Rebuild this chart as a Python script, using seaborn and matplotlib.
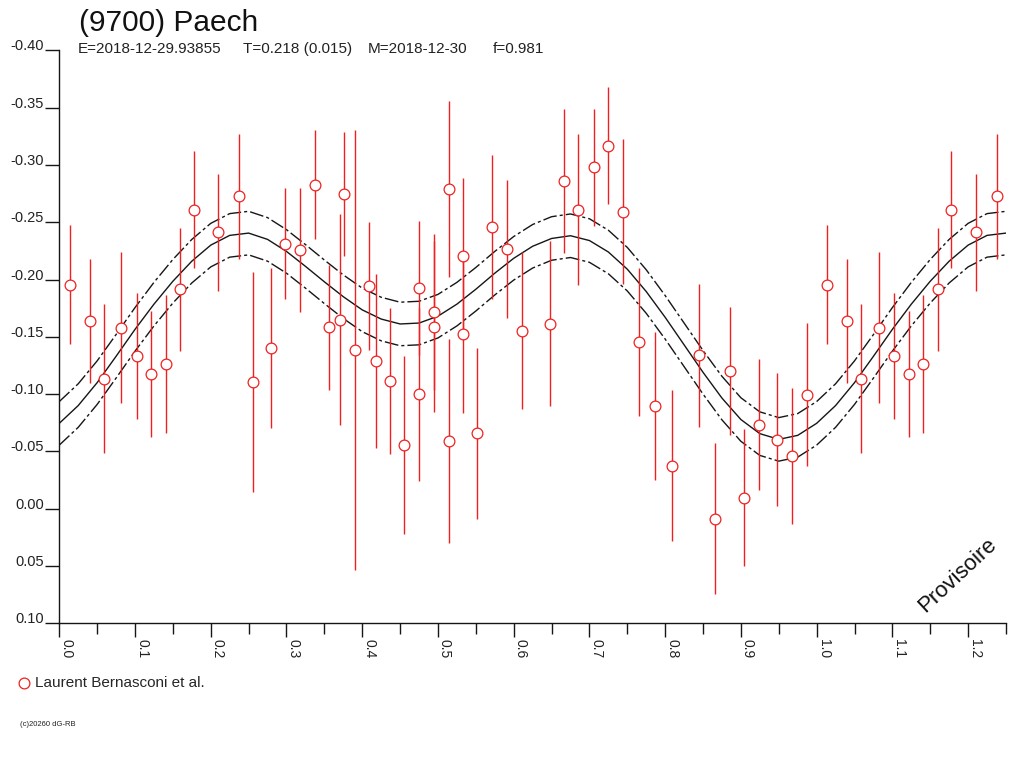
import numpy as np
import pandas as pd
import matplotlib
matplotlib.use("Agg")
import matplotlib.pyplot as plt
import seaborn as sns

# lightcurve points (phase, relative mag, 1-sigma error)
phase = [0.0141, 0.0406, 0.0590, 0.0820, 0.1020, 0.1216, 0.1410, 0.1600, 0.1780, 0.2100,
         0.2378, 0.2563, 0.2797, 0.2986, 0.3180, 0.3374, 0.3567, 0.3700, 0.3760, 0.3910,
         0.4095, 0.4188, 0.4373, 0.4558, 0.4756, 0.4748, 0.4950, 0.4950, 0.5144, 0.5148,
         0.5337, 0.5333, 0.5522, 0.5716, 0.5910, 0.6103, 0.6473, 0.6667, 0.6843, 0.7054,
         0.7248, 0.7437, 0.7660, 0.7865, 0.8094, 0.8442, 0.8662, 0.8851, 0.9045, 0.9243,
         0.9472, 0.9670, 0.9868]
mag = [-0.1955, -0.1640, -0.1134, -0.1580, -0.1330, -0.1178, -0.1263, -0.1915, -0.2610, -0.2412,
       -0.2726, -0.1108, -0.1405, -0.2312, -0.2260, -0.2827, -0.1585, -0.1649, -0.2746, -0.1385,
       -0.1946, -0.1289, -0.1114, -0.0556, -0.1926, -0.0998, -0.1716, -0.1588, -0.2790, -0.0593,
       -0.2205, -0.1527, -0.0660, -0.2458, -0.2266, -0.1553, -0.1614, -0.2857, -0.2610, -0.2979,
       -0.3168, -0.2592, -0.1457, -0.0896, -0.0375, -0.1338, 0.0087, -0.1202, -0.0096, -0.0733,
       -0.0602, -0.0457, -0.0995]
mag_err = [0.0520, 0.0540, 0.0650, 0.0660, 0.0550, 0.0550, 0.0600, 0.0535, 0.0510, 0.0510,
           0.0545, 0.0960, 0.0697, 0.0485, 0.0540, 0.0476, 0.0545, 0.0920, 0.0545, 0.1920,
           0.0560, 0.0760, 0.0635, 0.0780, 0.0585, 0.0753, 0.0680, 0.0745, 0.0770, 0.0889,
           0.0680, 0.0690, 0.0746, 0.0627, 0.0606, 0.0685, 0.0720, 0.0630, 0.0657, 0.0513,
           0.0513, 0.0635, 0.0644, 0.0648, 0.0657, 0.0627, 0.0656, 0.0560, 0.0600, 0.0574,
           0.0579, 0.0592, 0.0622]

# fitted curve read at regular phases over one cycle
fit_phase = [0.000, 0.025, 0.050, 0.075, 0.100, 0.125, 0.150, 0.175, 0.200, 0.225,
             0.250, 0.275, 0.300, 0.325, 0.350, 0.375, 0.400, 0.425, 0.450, 0.475,
             0.500, 0.525, 0.550, 0.575, 0.600, 0.625, 0.650, 0.675, 0.700, 0.725,
             0.750, 0.775, 0.800, 0.825, 0.850, 0.875, 0.900, 0.925, 0.950, 0.975, 1.000]
fit_mag = [-0.0745, -0.0900, -0.1100, -0.1330, -0.1565, -0.1785, -0.1985, -0.2160, -0.2300, -0.2385,
           -0.2405, -0.2350, -0.2245, -0.2115, -0.1980, -0.1850, -0.1735, -0.1655, -0.1612, -0.1620,
           -0.1680, -0.1785, -0.1915, -0.2055, -0.2185, -0.2290, -0.2358, -0.2382, -0.2340, -0.2240,
           -0.2090, -0.1895, -0.1670, -0.1430, -0.1190, -0.0965, -0.0778, -0.0655, -0.0605, -0.0640,
           -0.0745]
fit_sigma = 0.019

x_ticks = [0.0, 0.1, 0.2, 0.3, 0.4, 0.5, 0.6, 0.7, 0.8, 0.9, 1.0, 1.1, 1.2]
y_ticks = [-0.40, -0.35, -0.30, -0.25, -0.20, -0.15, -0.10, -0.05, 0.00, 0.05, 0.10]

title = "(9700) Paech"
info = ["E=2018-12-29.93855", "T=0.218 (0.015)", "M=2018-12-30", "f=0.981"]
observer = "Laurent Bernasconi et al."
PHASE_MAX = 1.25

RED = "#f02020"
INK = "#161616"

sns.set_style("ticks")
plt.rcParams["font.family"] = ["Liberation Sans", "DejaVu Sans"]
plt.rcParams["axes.unicode_minus"] = False
plt.rcParams["lines.scale_dashes"] = False

# repeat the start of the cycle after phase 1
pts = pd.DataFrame({"phase": phase, "mag": mag, "err": mag_err})
extra = pts[pts.phase + 1 <= PHASE_MAX].assign(phase=lambda d: d.phase + 1)
pts = pd.concat([pts, extra], ignore_index=True)

fit = pd.DataFrame({"phase": fit_phase, "mag": fit_mag})
fit_extra = fit[(fit.phase > 0) & (fit.phase + 1 <= PHASE_MAX)].assign(phase=lambda d: d.phase + 1)
fit = pd.concat([fit, fit_extra], ignore_index=True)

fig = plt.figure(figsize=(10.24, 7.68), dpi=100)
ax = fig.add_axes([0.0579, 0.1884, 0.9245, 0.7461])

sns.lineplot(x=fit.phase, y=fit.mag, ax=ax, color=INK, lw=1.0, estimator=None, zorder=1)
dashdot = (0, (10, 2.2, 2.2, 2.2))
sns.lineplot(x=fit.phase, y=fit.mag - fit_sigma, ax=ax, color=INK, lw=1.0,
             linestyle=dashdot, estimator=None, zorder=1)
sns.lineplot(x=fit.phase, y=fit.mag + fit_sigma, ax=ax, color=INK, lw=1.0,
             linestyle=dashdot, estimator=None, zorder=1)

ax.vlines(pts.phase, pts.mag - pts.err, pts.mag + pts.err, color=RED, lw=1.0, zorder=2)
sns.scatterplot(data=pts, x="phase", y="mag", ax=ax, marker="o", s=60,
                facecolor="white", edgecolor=RED, linewidth=0.9, zorder=3,
                label=observer, legend=False)

ax.set_xlim(0, PHASE_MAX)
ax.set_ylim(0.10, -0.40)
ax.set_xlabel("")
ax.set_ylabel("")
sns.despine(ax=ax)
for s in ("left", "bottom"):
    ax.spines[s].set_color(INK)
    ax.spines[s].set_linewidth(1.0)

ax.set_xticks(x_ticks)
ax.set_xticks([t + 0.05 for t in x_ticks], minor=True)
ax.set_xticklabels([f"{t:.1f}" for t in x_ticks], rotation=270, ha="left", va="top",
                   fontsize=10, color="#222222")
ax.tick_params(axis="x", which="major", length=10, width=1, pad=1, color=INK)
ax.tick_params(axis="x", which="minor", length=8, width=1, color=INK)

ax.set_yticks(y_ticks)
ax.set_yticklabels([f"{t:.2f}" for t in y_ticks], va="baseline", fontsize=10.5, color="#222222")
ax.tick_params(axis="y", length=10, width=1, pad=1, color=INK)

fig.text(79 / 1024, 1 - 31 / 768, title, fontsize=21.5, va="baseline", color="#111111")
for txt, xpx in zip(info, [78, 243, 368, 493]):
    fig.text(xpx / 1024, 1 - 53 / 768, txt, fontsize=11, va="baseline", color="#222222")

handles, labels = ax.get_legend_handles_labels()
fig.legend(handles, labels, loc="center left", bbox_to_anchor=(18 / 1024, 1 - 683 / 768),
           frameon=False, fontsize=11, handlelength=0.8, handletextpad=0.3,
           borderpad=0, borderaxespad=0, scatterpoints=1)

fig.text(20 / 1024, 1 - 725 / 768, "(c)20260 dG-RB", fontsize=5.5, va="center", color="#222222")
fig.text(957 / 1024, 1 - 575 / 768, "Provisoire", fontsize=16, rotation=43,
         ha="center", va="center", color="#111111")

fig.savefig("out.png", dpi=100)
